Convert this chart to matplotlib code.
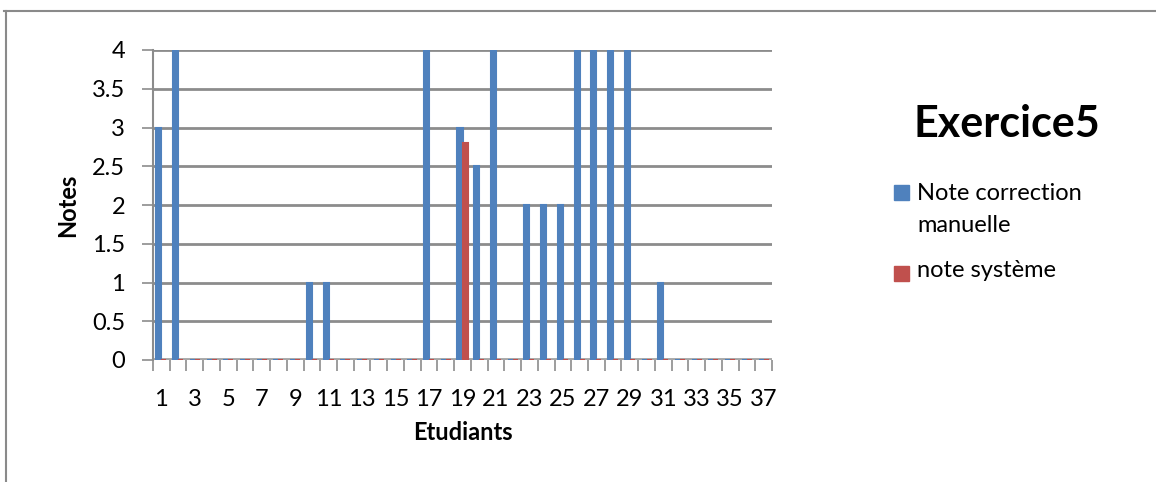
import numpy as np
import matplotlib
matplotlib.use("Agg")
import matplotlib.pyplot as plt
from matplotlib.lines import Line2D
from matplotlib.patches import Rectangle

# === DONNÉES ===
etudiants = list(range(1, 38))
note_manuelle = [3, 4, 0, 0, 0, 0, 0, 0, 0, 1, 1, 0, 0, 0, 0, 0, 4, 0, 3, 2.5,
                 4, 0, 2, 2, 2, 4, 4, 4, 4, 0, 1, 0, 0, 0, 0, 0, 0]
note_systeme = [0, 0, 0, 0, 0, 0, 0, 0, 0, 0, 0, 0, 0, 0, 0, 0, 0, 0, 2.8, 0,
                0, 0, 0, 0, 0, 0, 0, 0, 0, 0, 0, 0, 0, 0, 0, 0, 0]
series = ["Note correction\nmanuelle", "note système"]
titre = "Exercice5"

BLEU = "#4F81BD"
ROUGE = "#C0504D"
GRIS = "#8C8C8C"
W, H = 1156, 482
TAILLE = 17

plt.rcParams['font.family'] = ['Lato', 'DejaVu Sans']


def fx(px):
    return px / W


def fy(py):
    return 1 - py / H


fig = plt.figure(figsize=(W / 100, H / 100), dpi=100)
ax = fig.add_axes([fx(153), fy(360), 619 / W, 310 / H])

x = np.array(etudiants)
larg = 0.3
ax.bar(x - larg / 2, note_manuelle, larg, color=BLEU, edgecolor=BLEU,
       linewidth=1.5, label=series[0], zorder=3)
ax.bar(x + larg / 2, note_systeme, larg, color=ROUGE, edgecolor=ROUGE,
       linewidth=1.5, label=series[1], zorder=3)

ax.set_xlim(0.5, 37.5)
ax.set_ylim(0, 4)
ax.set_yticks(np.arange(0, 4.01, 0.5))
ax.set_yticklabels(["0", "0.5", "1", "1.5", "2", "2.5", "3", "3.5", "4"])
ax.set_xticks(x[::2])
ax.set_xticks(np.arange(0.5, 37.6, 1), minor=True)
ax.tick_params(axis='x', which='major', length=0, pad=21, labelsize=TAILLE)
ax.tick_params(axis='x', which='minor', length=8, width=1.2, color=GRIS)
ax.tick_params(axis='y', which='major', length=8, width=1.2, color=GRIS,
               labelsize=TAILLE, pad=12)

ax.grid(axis='y', color=GRIS, linewidth=2, zorder=0)
for s in ['top', 'right', 'bottom']:
    ax.spines[s].set_visible(False)
ax.spines['left'].set_color(GRIS)
ax.spines['left'].set_linewidth(1.5)
# sol du graphique
ax.axhline(0, color="#A6A6A6", linewidth=3.5, zorder=2)

ax.set_ylabel("Notes", fontsize=TAILLE, fontweight='bold', labelpad=9)
ax.set_xlabel("Etudiants", fontsize=TAILLE, fontweight='bold', labelpad=8)

fig.text(fx(1007), fy(137), titre, fontsize=31, fontweight='bold',
         ha='center', va='baseline')

# légende
for (texte, couleur, y_carre, y_base) in [(series[0], BLEU, 185, 200),
                                          (series[1], ROUGE, 266, 277)]:
    fig.patches.append(Rectangle((fx(894), fy(y_carre + 15)), 15 / W, 15 / H,
                                 transform=fig.transFigure, color=couleur))
    fig.text(fx(917), fy(y_base), texte.split("\n")[0], fontsize=TAILLE,
             va='baseline')
    if "\n" in texte:
        fig.text(fx(917), fy(y_base + 32), texte.split("\n")[1],
                 fontsize=TAILLE, va='baseline')

# cadre du graphique
fig.add_artist(Line2D([fx(4), 1.0], [fy(10.5), fy(10.5)],
                      color="#8A8A8A", linewidth=1.5))
fig.add_artist(Line2D([fx(5.5), fx(5.5)], [0, fy(10.5)],
                      color="#8A8A8A", linewidth=1.5))

fig.savefig("out.png", dpi=100)
